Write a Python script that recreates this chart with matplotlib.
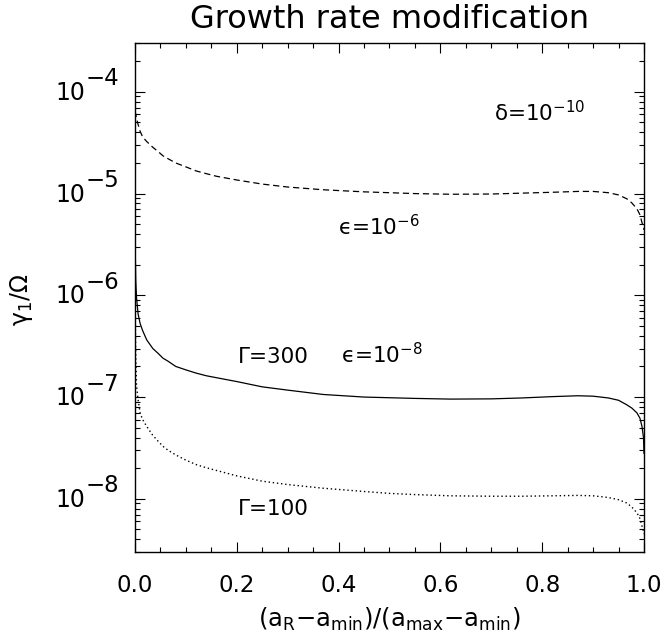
import numpy as np
import matplotlib
matplotlib.use('Agg')
import matplotlib.pyplot as plt
from matplotlib.ticker import MultipleLocator, LogLocator, NullFormatter

plt.rcParams['font.family'] = ['DejaVu Sans']
plt.rcParams['mathtext.fontset'] = 'dejavusans'
plt.rcParams['mathtext.default'] = 'regular'

# x = (a_R - a_min)/(a_max - a_min)
frac = [0.0, 0.0015, 0.003, 0.006, 0.01, 0.015, 0.023, 0.035, 0.045, 0.055,
        0.065, 0.08, 0.1, 0.12, 0.14, 0.16, 0.2, 0.25, 0.3, 0.37,
        0.45, 0.5, 0.55, 0.62, 0.7, 0.76, 0.82, 0.87, 0.9, 0.93,
        0.95, 0.966, 0.976, 0.986, 0.992, 0.996, 0.999, 1.0]

# gamma_1/Omega, Gamma=300, eps=1e-6 (dashed)
g300_eps6 = np.array([6.5, 6.0, 5.5, 4.8, 4.1, 3.6, 3.25, 2.85, 2.6, 2.35,
                      2.2, 2.0, 1.83, 1.67, 1.57, 1.48, 1.36, 1.24, 1.16, 1.09,
                      1.04, 1.02, 1.0, 0.985, 0.99, 1.01, 1.03, 1.05, 1.05, 1.02,
                      0.97, 0.89, 0.81, 0.71, 0.62, 0.52, 0.46, 0.44]) * 1e-5
# Gamma=300, eps=1e-8 (solid)
g300_eps8 = np.array([37, 14, 9.5, 6.6, 5.3, 4.5, 3.65, 3.0, 2.7, 2.41,
                      2.25, 2.0, 1.85, 1.72, 1.62, 1.55, 1.42, 1.26, 1.17, 1.06,
                      1.0, 0.985, 0.97, 0.955, 0.96, 0.98, 1.01, 1.03, 1.02, 0.98,
                      0.93, 0.84, 0.78, 0.70, 0.62, 0.515, 0.40, 0.28]) * 1e-7
# Gamma=100, eps=1e-8 (dotted)
g100_eps8 = np.array([90, 25, 13, 9.5, 7.0, 6.0, 5.15, 4.2, 3.7, 3.28,
                      3.0, 2.7, 2.4, 2.17, 2.02, 1.9, 1.68, 1.49, 1.38, 1.27,
                      1.18, 1.13, 1.1, 1.07, 1.06, 1.06, 1.07, 1.08, 1.07, 1.03,
                      0.98, 0.91, 0.83, 0.73, 0.64, 0.54, 0.48, 0.45]) * 1e-8

xticks = [0.0, 0.2, 0.4, 0.6, 0.8, 1.0]
decades = [-8, -7, -6, -5, -4]

fig = plt.figure(figsize=(6.65, 6.39), dpi=100)
ax = fig.add_axes([135 / 665, 1 - 552 / 639, 509 / 665, 508.7 / 639])

ax.plot(frac, g300_eps6, color='k', lw=0.9, dashes=(5, 3))
ax.plot(frac, g300_eps8, color='k', lw=0.9)
ax.plot(frac, g100_eps8, color='k', lw=1.0, dashes=(1, 2))

ax.set_yscale('log')
ax.set_xlim(0, 1)
ax.set_ylim(3e-9, 3e-4)
ax.set_xticks(xticks)
ax.set_xticklabels(['%.1f' % t for t in xticks])
ax.xaxis.set_minor_locator(MultipleLocator(0.05))
ax.yaxis.set_major_locator(LogLocator(base=10, numticks=20))
ax.yaxis.set_minor_locator(LogLocator(base=10, subs=range(2, 10), numticks=20))
ax.yaxis.set_minor_formatter(NullFormatter())
ax.tick_params(which='both', direction='in', top=True, right=True, width=0.8)
ax.tick_params(which='major', length=7)
ax.tick_params(which='minor', length=3.5)
ax.tick_params(axis='x', labelsize=16.5, pad=16)
ax.tick_params(axis='y', labelleft=False)
for s in ax.spines.values():
    s.set_linewidth(1.0)

# y tick labels: 10 with a big exponent, IDL style
for d in decades:
    ax.annotate('10', xy=(0, 10.0 ** d), xycoords=('axes fraction', 'data'),
                xytext=(-50, -1), textcoords='offset pixels',
                ha='right', va='center', fontsize=17)
    ax.annotate('\u2212%d' % -d, xy=(0, 10.0 ** d), xycoords=('axes fraction', 'data'),
                xytext=(-49, 13), textcoords='offset pixels',
                ha='left', va='center', fontsize=16.5)

ax.text(0.705, 5.15e-5, r'δ=10$^{-10}$', fontsize=15.5, va='baseline')
ax.text(0.399, 3.9e-6, r'ϵ=10$^{-6}$', fontsize=15.5, va='baseline')
ax.text(0.202, 2.15e-7, r'Γ=300', fontsize=15.5, va='baseline')
ax.text(0.405, 2.15e-7, r'ϵ=10$^{-8}$', fontsize=15.5, va='baseline')
ax.text(0.202, 7.0e-9, r'Γ=100', fontsize=15.5, va='baseline')

fig.text(389.5 / 665, 1 - 28 / 639, 'Growth rate modification',
         ha='center', va='baseline', fontsize=23)
fig.text(389.5 / 665, 1 - 627 / 639,
         r'(a$_R$$-$a$_{min}$)/(a$_{max}$$-$a$_{min}$)',
         ha='center', va='baseline', fontsize=17.5)
fig.text(22 / 665, 1 - 300 / 639, r'γ$_1$/Ω', rotation=90,
         ha='center', va='center', fontsize=17)

fig.savefig('out.png', dpi=100)
